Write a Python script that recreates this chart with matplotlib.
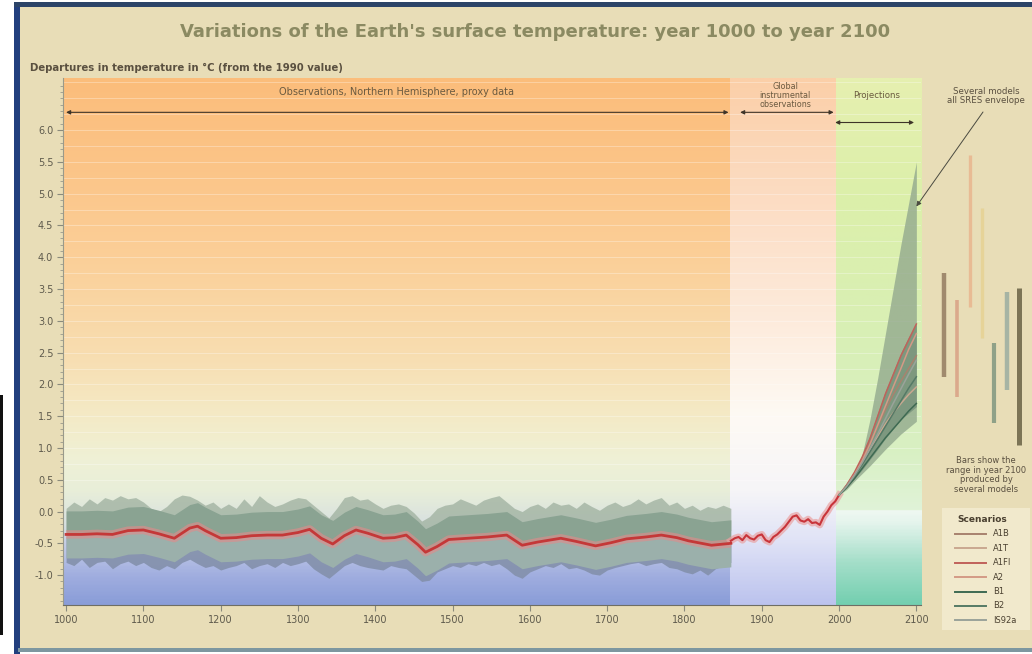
import numpy as np
import matplotlib
matplotlib.use('Agg')
import matplotlib.pyplot as plt
from matplotlib.colors import LinearSegmentedColormap
from matplotlib.patches import Rectangle
from matplotlib.lines import Line2D

# --- data ---
proxy_years = [1000, 1020, 1040, 1060, 1080, 1100, 1120, 1140, 1160, 1170, 1180, 1200,
               1220, 1240, 1260, 1280, 1300, 1315, 1330, 1345, 1360, 1375, 1390, 1410,
               1425, 1440, 1455, 1465, 1480, 1495, 1520, 1545, 1570, 1590, 1610, 1640,
               1660, 1685, 1705, 1725, 1750, 1770, 1790, 1805, 1835, 1860]
proxy_smooth = [-0.36, -0.36, -0.35, -0.36, -0.30, -0.29, -0.35, -0.42, -0.26, -0.23, -0.30, -0.42,
                -0.41, -0.38, -0.37, -0.37, -0.33, -0.28, -0.42, -0.51, -0.38, -0.29, -0.34, -0.42,
                -0.41, -0.37, -0.52, -0.64, -0.55, -0.44, -0.42, -0.40, -0.37, -0.53, -0.48, -0.42,
                -0.47, -0.54, -0.49, -0.43, -0.40, -0.37, -0.41, -0.46, -0.53, -0.50]
proxy_halfwidth = 0.37

spike_years = list(range(1000, 1861, 10))
spike_top = [0.05, 0.15, 0.08, 0.20, 0.12, 0.22, 0.18, 0.25, 0.20, 0.22,
             0.15, 0.05, 0.00, 0.08, 0.20, 0.26, 0.24, 0.18, 0.10, 0.15,
             0.05, 0.12, 0.05, 0.20, 0.08, 0.25, 0.15, 0.08, 0.12, 0.18,
             0.22, 0.20, 0.10, 0.00, -0.10, 0.05, 0.22, 0.25, 0.18, 0.20,
             0.12, 0.05, 0.10, 0.12, 0.08, -0.02, -0.15, -0.08, 0.05, 0.10,
             0.12, 0.20, 0.15, 0.10, 0.18, 0.22, 0.25, 0.15, 0.05, 0.00,
             0.08, 0.12, 0.05, 0.15, 0.10, 0.12, 0.05, 0.15, 0.08, 0.02,
             0.10, 0.15, 0.08, 0.12, 0.20, 0.12, 0.18, 0.22, 0.10, 0.15,
             0.05, 0.10, 0.02, 0.08, 0.05, 0.10, 0.05]
spike_bottom = [-0.80, -0.85, -0.75, -0.88, -0.80, -0.78, -0.90, -0.82, -0.78, -0.85,
                -0.80, -0.88, -0.92, -0.85, -0.90, -0.80, -0.75, -0.82, -0.88, -0.85,
                -0.92, -0.88, -0.85, -0.80, -0.90, -0.85, -0.82, -0.88, -0.80, -0.85,
                -0.82, -0.78, -0.90, -0.98, -1.05, -0.95, -0.85, -0.80, -0.85, -0.88,
                -0.90, -0.92, -0.85, -0.88, -0.90, -1.00, -1.10, -1.08, -0.95, -0.90,
                -0.85, -0.88, -0.82, -0.85, -0.80, -0.85, -0.82, -0.90, -1.00, -1.05,
                -0.95, -0.90, -0.85, -0.88, -0.82, -0.90, -0.88, -0.92, -0.98, -1.00,
                -0.92, -0.88, -0.85, -0.82, -0.80, -0.85, -0.82, -0.80, -0.88, -0.90,
                -0.95, -0.98, -0.92, -1.00, -0.90, -0.85, -0.80]

instr_years = [1860, 1865, 1870, 1875, 1880, 1885, 1890, 1895, 1900, 1905, 1910, 1915,
               1920, 1925, 1930, 1935, 1940, 1945, 1950, 1955, 1960, 1965, 1970, 1975,
               1980, 1985, 1990, 1995, 2000]
instr_temp = [-0.46, -0.42, -0.40, -0.45, -0.37, -0.42, -0.44, -0.38, -0.36, -0.45, -0.48, -0.40,
              -0.36, -0.30, -0.24, -0.16, -0.08, -0.06, -0.14, -0.16, -0.12, -0.18, -0.17, -0.21,
              -0.08, 0.00, 0.10, 0.16, 0.26]

proj_years = [2000, 2010, 2020, 2030, 2040, 2050, 2060, 2070, 2080, 2090, 2100]
envelope_hi = [0.26, 0.42, 0.62, 0.90, 1.45, 2.10, 2.80, 3.50, 4.20, 4.85, 5.50]
envelope_lo = [0.26, 0.35, 0.48, 0.60, 0.72, 0.85, 0.98, 1.10, 1.22, 1.32, 1.42]
ensemble_hi = [0.26, 0.42, 0.62, 0.88, 1.20, 1.55, 1.90, 2.20, 2.50, 2.75, 2.95]
ensemble_lo = [0.26, 0.38, 0.52, 0.66, 0.82, 0.98, 1.15, 1.30, 1.45, 1.55, 1.65]

scenarios = ['A1B', 'A1T', 'A1FI', 'A2', 'B1', 'B2', 'IS92a']
scenario_curves = {
    'A1B':   [0.26, 0.42, 0.60, 0.82, 1.08, 1.34, 1.60, 1.84, 2.05, 2.25, 2.45],
    'A1T':   [0.26, 0.41, 0.58, 0.78, 0.98, 1.18, 1.38, 1.55, 1.70, 1.84, 1.96],
    'A1FI':  [0.26, 0.42, 0.62, 0.86, 1.15, 1.50, 1.85, 2.15, 2.45, 2.70, 2.95],
    'A2':    [0.26, 0.40, 0.58, 0.80, 1.06, 1.36, 1.66, 1.96, 2.25, 2.55, 2.80],
    'B1':    [0.26, 0.38, 0.52, 0.68, 0.84, 1.00, 1.16, 1.30, 1.44, 1.58, 1.70],
    'B2':    [0.26, 0.40, 0.56, 0.74, 0.94, 1.14, 1.34, 1.54, 1.74, 1.94, 2.12],
    'IS92a': [0.26, 0.40, 0.57, 0.77, 0.99, 1.22, 1.46, 1.70, 1.93, 2.16, 2.38],
}
range_2100_lo = [2.11, 1.80, 3.22, 2.73, 1.39, 1.91, 1.04]
range_2100_hi = [3.76, 3.32, 5.61, 4.77, 2.65, 3.46, 3.51]

# --- styles ---
line_colors = ['#a8826e', '#c9a890', '#c0625a', '#d49a86', '#3e6a52', '#557a66', '#9aa39a']
bar_colors = ['#a08a6e', '#dba98c', '#e8bb94', '#e6d398', '#8fa188', '#a6b4a4', '#7c7456']
bar_px = [944, 957, 970, 982, 994, 1007, 1019]
bar_lw = [3.2, 2.6, 2.4, 2.4, 3.0, 3.2, 3.6]

W, H = 1032, 654
YLO, YHI = -1.47, 6.82
XLO, XHI = 996, 2106

fig = plt.figure(figsize=(W / 100, H / 100), dpi=100)
fig.patch.set_facecolor('white')


def fig_rect(x0, y0, x1, y1, color, z=-5):
    fig.patches.append(Rectangle((x0 / W, 1 - y1 / H), (x1 - x0) / W, (y1 - y0) / H,
                                 transform=fig.transFigure, facecolor=color,
                                 edgecolor='none', zorder=z))


fig_rect(18, 5, W, 650, '#e8ddb7', -10)
fig_rect(14, 2, 20, H, '#223f7e')
fig_rect(14, 2, W, 7, '#2c4468')
fig_rect(18, 648, W, 652, '#7d97a0')
fig_rect(0, 395, 3, 635, '#111111')

ax = fig.add_axes([63 / W, 1 - 605 / H, (921 - 63) / W, (605 - 78) / H])
ax.set_facecolor('none')


def vgrad(x0, x1, stops):
    pos = [(v - YLO) / (YHI - YLO) for v, _ in stops]
    cmap = LinearSegmentedColormap.from_list('g', list(zip(pos, [c for _, c in stops])))
    img = cmap(np.linspace(0, 1, 400))[:, None, :]
    ax.imshow(img, extent=(x0, x1, YLO, YHI), origin='lower', aspect='auto',
              interpolation='bilinear', zorder=0)


vgrad(XLO, 1859, [(YLO, '#8a9dd8'), (-1.0, '#a2afe0'), (-0.6, '#c0c9e6'), (-0.2, '#d8e1e0'),
                  (0.3, '#e8eed9'), (0.8, '#eff1d6'), (1.5, '#f4eac6'), (2.5, '#f8ddb0'),
                  (4.0, '#fbcf98'), (5.5, '#fcc487'), (YHI, '#fbbd7b')])
vgrad(1859, 1996, [(YLO, '#bcc3ee'), (-0.5, '#dfe2f6'), (0.3, '#f6f5f8'), (1.5, '#fefaf4'),
                   (3.0, '#fdebdc'), (5.0, '#fcdcc2'), (YHI, '#fbcfa8')])
vgrad(1996, XHI, [(YLO, '#74cfb0'), (-0.8, '#a6dfca'), (-0.2, '#e4f4ec'), (0.0, '#f0f8f2'),
                  (0.01, '#e0f3d8'), (1.0, '#d8f0c2'), (3.0, '#d9efb4'), (5.0, '#dcefaa'),
                  (YHI, '#e6f0b0')])

for g in np.arange(0.5, 6.8, 0.25):
    ax.axhline(g, color='white', lw=0.6, alpha=0.35, zorder=1)

# proxy reconstruction
ax.fill_between(spike_years, -0.3, spike_top, color='#a2b3a2', alpha=0.8, lw=0, zorder=2)
ax.fill_between(spike_years, -0.4, spike_bottom, color='#8390ab', alpha=0.9, lw=0, zorder=2)
ps = np.array(proxy_smooth)
ax.fill_between(proxy_years, ps, ps + proxy_halfwidth, color='#8aa392', lw=0, zorder=3)
ax.fill_between(proxy_years, ps - proxy_halfwidth, ps, color='#9bb0ab', lw=0, zorder=3)
ax.plot(proxy_years, proxy_smooth, color='#e38a8a', lw=6, alpha=0.6, zorder=4,
        solid_capstyle='butt')
ax.plot(proxy_years, proxy_smooth, color='#c43838', lw=2.0, zorder=5)

# instrumental record
ax.plot(instr_years, instr_temp, color='#eaa2a2', lw=5, alpha=0.7, zorder=4)
ax.plot(instr_years, instr_temp, color='#c8343a', lw=1.5, zorder=5)

# projections
ax.fill_between(proj_years, envelope_lo, envelope_hi, color='#93a98e', alpha=0.8, lw=0, zorder=3)
ax.fill_between(proj_years, ensemble_lo, ensemble_hi, color='#759179', alpha=0.8, lw=0, zorder=4)
for name, col in zip(scenarios, line_colors):
    ax.plot(proj_years, scenario_curves[name], color=col, lw=1.1, zorder=5)

ax.set_xlim(XLO, XHI)
ax.set_ylim(YLO, YHI)
ax.set_xticks(range(1000, 2101, 100))
ax.set_yticks(np.arange(-1.0, 6.01, 0.5))
ax.set_yticks(np.arange(-1.4, 6.8, 0.1), minor=True)
ax.set_yticklabels([f'{v:.1f}' for v in np.arange(-1.0, 6.01, 0.5)])
ax.tick_params(axis='both', labelsize=7, colors='#8a8a7c', labelcolor='#5e5a4c',
               length=4, width=0.8)
ax.tick_params(axis='y', which='minor', length=2, color='#9a9a8c')
ax.tick_params(axis='y', pad=3)
for s in ['top', 'right']:
    ax.spines[s].set_visible(False)
ax.spines['left'].set_color('#9a9a8a')
ax.spines['bottom'].set_color('#6e6e64')

# period arrows
arrow_kw = dict(arrowstyle='<|-|>', color='#3e3428', lw=0.8, mutation_scale=6,
                shrinkA=0, shrinkB=0)
ax.annotate('', xy=(1000, 6.28), xytext=(1857, 6.28), arrowprops=arrow_kw, zorder=6)
ax.annotate('', xy=(1872, 6.28), xytext=(1993, 6.28), arrowprops=arrow_kw, zorder=6)
ax.annotate('', xy=(1995, 6.12), xytext=(2097, 6.12), arrowprops=arrow_kw, zorder=6)

ax.text(1428, 6.6, 'Observations, Northern Hemisphere, proxy data', ha='center', va='center',
        fontsize=7, color='#6a5a40')
ax.text(1930, 6.55, 'Global\ninstrumental\nobservations', ha='center', va='center',
        fontsize=5.8, color='#6a5a40', linespacing=1.0)
ax.text(2048, 6.55, 'Projections', ha='center', va='center', fontsize=6.2, color='#6a5a40')

# arrow to the envelope
ax.annotate('', xy=(2100, 4.8), xytext=(983, H - 112), textcoords='figure pixels',
            arrowprops=dict(arrowstyle='-|>', color='#4a4a40', lw=0.7, mutation_scale=7,
                            shrinkA=0, shrinkB=0), annotation_clip=False, zorder=6)

# right panel: ranges in 2100
axr = fig.add_axes([921 / W, 1 - 605 / H, (W - 921) / W, (605 - 78) / H])
axr.set_xlim(921, W)
axr.set_ylim(YLO, YHI)
axr.axis('off')
for xp, lo, hi, col, lw in zip(bar_px, range_2100_lo, range_2100_hi, bar_colors, bar_lw):
    axr.plot([xp, xp], [lo, hi], color=col, lw=lw, solid_capstyle='butt')

# titles and notes
fig.text(535 / W, 1 - 32 / H, "Variations of the Earth's surface temperature: year 1000 to year 2100",
         ha='center', va='center', fontsize=13, fontweight='bold', color='#8b8a62')
fig.text(30 / W, 1 - 68 / H, 'Departures in temperature in °C (from the 1990 value)',
         ha='left', va='center', fontsize=7.3, fontweight='bold', color='#5a5040')
fig.text(986 / W, 1 - 96 / H, 'Several models\nall SRES envelope', ha='center', va='center',
         fontsize=6.2, color='#5a5040', linespacing=1.05)
fig.text(986 / W, 1 - 475 / H, 'Bars show the\nrange in year 2100\nproduced by\nseveral models',
         ha='center', va='center', fontsize=6, color='#5a5040', linespacing=1.1)

# scenario legend
fig_rect(942, 508, W - 2, 630, '#f1e9cc', 2)
fig.text(982 / W, 1 - 519 / H, 'Scenarios', ha='center', va='center', fontsize=6.5,
         fontweight='bold', color='#4a4030', zorder=3)
for i, (name, col) in enumerate(zip(scenarios, line_colors)):
    yp = 1 - (534 + i * 14.4) / H
    fig.lines.append(Line2D([955 / W, 986 / W], [yp, yp], transform=fig.transFigure,
                            color=col, lw=1.4, zorder=3))
    fig.text(993 / W, yp, name, ha='left', va='center', fontsize=6, color='#4a4030', zorder=3)

fig.savefig('out.png', dpi=100)
